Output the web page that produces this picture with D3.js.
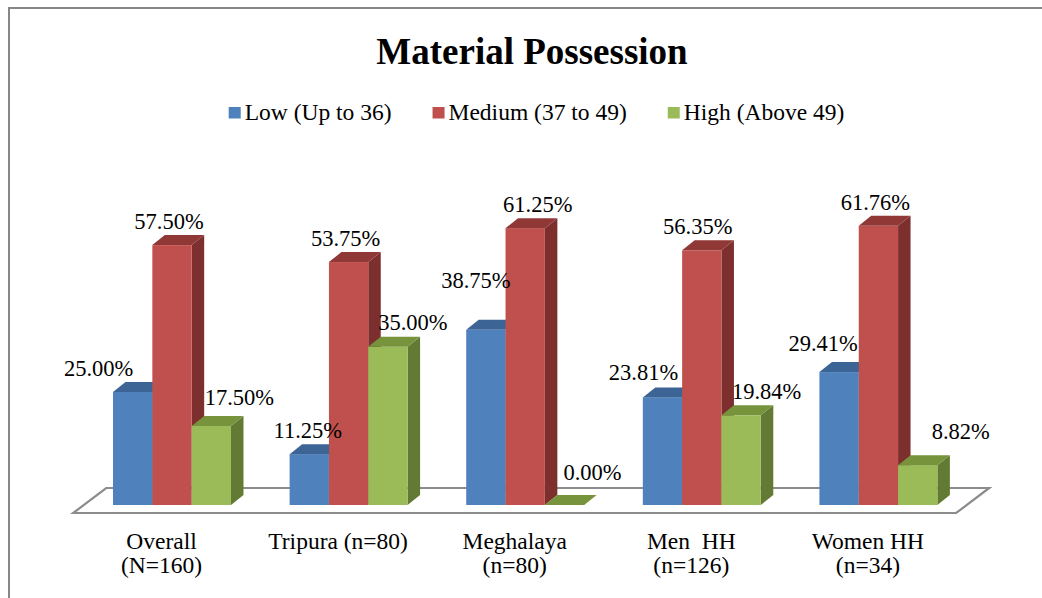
<!DOCTYPE html>
<html>
<head>
<meta charset="utf-8">
<script src="https://cdn.jsdelivr.net/npm/d3@7"></script>
<style>
  html, body { margin: 0; padding: 0; background: #fff; }
  svg { display: block; }
  svg text { font-family: "Liberation Serif", "DejaVu Serif", serif; white-space: pre; }
</style>
</head>
<body>
<svg id="chart" width="1042" height="598"></svg>
<script>
// ---- data ----
const categories = ["Overall", "Tripura", "Meghalaya", "Men HH", "Women HH"];
const categoryLines = [
  ["Overall", "(N=160)"],
  ["Tripura (n=80)"],
  ["Meghalaya", "(n=80)"],
  ["Men  HH", "(n=126)"],
  ["Women HH", "(n=34)"]
];
const seriesNames = ["Low (Up to 36)", "Medium (37 to 49)", "High (Above 49)"];
const lowValues    = [25.00, 11.25, 38.75, 23.81, 29.41];
const mediumValues = [57.50, 53.75, 61.25, 56.35, 61.76];
const highValues   = [17.50, 35.00, 0.00, 19.84, 8.82];
const chartTitle = "Material Possession";

// ---- styling / layout ----
const W = 1042, H = 598;
const palette = [
  { front: "#4F81BD", top: "#3C6596", side: "#385D8A" },
  { front: "#C0504D", top: "#8F3836", side: "#7D2F2E" },
  { front: "#9BBB59", top: "#77933C", side: "#637A34" }
];
const base = 505;                 // bottom of the bar front faces
const depth = { dx: 12.5, dy: -10 };      // bar depth projection
const floorDepth = { dx: 33, dy: -25 };   // floor depth projection
const floorFrontY = 513, floorShift = -10.5; // floor front edge relative to bars
// per-label nudges (label centre relative to bar front-top centre)
const labelNudgeX = [[-34, -1.5, -10, -19, -16], [-3, -3, 12.5, -4, -3], [28, 25, 28, 25.5, 43]];
const labelNudgeY = [[-24, -24, -49, -25, -29], [-24, -24, -24, -24, -23], [-28, -24, -33, -24, -34]];

const series = [lowValues, mediumValues, highValues];
const svg = d3.select("#chart");

// outer frame
svg.append("rect")
  .attr("x", 9).attr("y", 8).attr("width", W + 20).attr("height", H + 20)
  .attr("fill", "#fff").attr("stroke", "#878787").attr("stroke-width", 2);

// scales
const x = d3.scaleBand().domain(categories).range([83.7, 966.7])
  .paddingInner(0.332).paddingOuter(0.166);
const xs = d3.scaleBand().domain(d3.range(series.length)).range([0, x.bandwidth()]);
const y = d3.scaleLinear().domain([0, 70]).range([base, base - 70 * 4.52]);

// title
svg.append("text").attr("x", 532).attr("y", 64).attr("text-anchor", "middle")
  .attr("font-size", 37).attr("font-weight", "bold").attr("fill", "#000")
  .text(chartTitle);

// legend
const legend = svg.append("g").attr("font-size", 23.5);
let lx = 0;
seriesNames.forEach((name, i) => {
  const g = legend.append("g");
  g.append("rect").attr("x", 0).attr("y", -13).attr("width", 12).attr("height", 11.5)
    .attr("fill", palette[i].front);
  const t = g.append("text").attr("x", 16).attr("y", 0).text(name);
  const w = 16 + t.node().getComputedTextLength();
  g.attr("transform", `translate(${lx},0)`);
  lx += w + 41;
});
const legendWidth = lx - 41;
legend.attr("transform", `translate(${536.5 - legendWidth / 2},120)`);

// floor
const fl = x.range()[0] + floorShift, fr = x.range()[1] + floorShift;
const floorPts = [
  [fl, floorFrontY], [fr, floorFrontY],
  [fr + floorDepth.dx, floorFrontY + floorDepth.dy], [fl + floorDepth.dx, floorFrontY + floorDepth.dy]
];
svg.append("polygon").attr("points", floorPts.map(p => p.join(",")).join(" "))
  .attr("fill", "#fff").attr("stroke", "#8C8C8C").attr("stroke-width", 2.2)
  .attr("stroke-linejoin", "miter");

// bars (drawn left to right so neighbours cover the hidden side faces)
const bars = svg.append("g");
categories.forEach((c, ci) => {
  series.forEach((vals, si) => {
    const v = vals[ci];
    const x0 = x(c) + xs(si), x1 = x0 + xs.bandwidth();
    const yt = y(v);
    const col = palette[si];
    const g = bars.append("g");
    // side face
    g.append("polygon").attr("points", [
      [x1, base], [x1 + depth.dx, base + depth.dy], [x1 + depth.dx, yt + depth.dy], [x1, yt]
    ].map(p => p.join(",")).join(" ")).attr("fill", col.side);
    // front face
    g.append("rect").attr("x", x0).attr("y", yt).attr("width", x1 - x0).attr("height", base - yt)
      .attr("fill", col.front);
    // top face
    g.append("polygon").attr("points", [
      [x0, yt], [x1, yt], [x1 + depth.dx, yt + depth.dy], [x0 + depth.dx, yt + depth.dy]
    ].map(p => p.join(",")).join(" ")).attr("fill", col.top);
  });
});

// value labels
const labels = svg.append("g").attr("font-size", 22.5).attr("text-anchor", "middle").attr("fill", "#000");
categories.forEach((c, ci) => {
  series.forEach((vals, si) => {
    const v = vals[ci];
    const cx = x(c) + xs(si) + xs.bandwidth() / 2 + labelNudgeX[si][ci];
    const cy = y(v) + labelNudgeY[si][ci];
    labels.append("text").attr("x", cx).attr("y", cy + 7.5).text(v.toFixed(2) + "%");
  });
});

// category labels
const cats = svg.append("g").attr("font-size", 23.5).attr("text-anchor", "middle").attr("fill", "#000");
categories.forEach((c, ci) => {
  const cx = x(c) + x.bandwidth() / 2 + floorShift;
  categoryLines[ci].forEach((line, li) => {
    cats.append("text").attr("x", cx).attr("y", 549 + li * 24).text(line);
  });
});
</script>
</body>
</html>
